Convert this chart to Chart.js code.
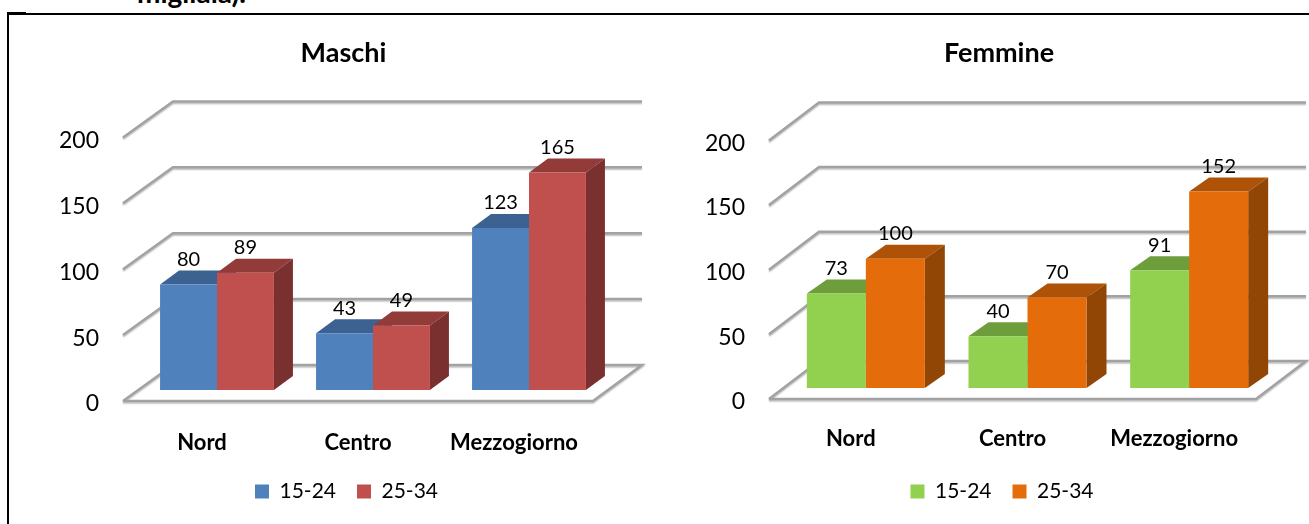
<!DOCTYPE html>
<html>
<head>
<meta charset="utf-8">
<title>Maschi e Femmine</title>
<script src="https://cdn.jsdelivr.net/npm/chart.js@4"></script>
<style>
    html, body { margin: 0; padding: 0; width: 1309px; height: 524px; overflow: hidden; background: #fff; }
    canvas { position: absolute; top: 0; }
    #left-chart { left: 8px; }
    #right-chart { left: 670px; }
    .caption { position: absolute; left: 137px; top: -25px; font: bold 28px Lato, sans-serif; color: #000; }
    .edge { position: absolute; background: #000; }
</style>
</head>
<body>
<div class="caption">migliaia).</div>
<div class="edge" style="left:7px;top:13px;width:1302px;height:1.5px"></div>
<div class="edge" style="left:7px;top:12px;width:19px;height:3px"></div>
<div class="edge" style="left:7px;top:13px;width:2px;height:511px"></div>
<canvas id="left-chart" width="670" height="524"></canvas>
<canvas id="right-chart" width="658" height="524"></canvas>
<script>
const categories = ['Nord', 'Centro', 'Mezzogiorno'];
const seriesNames = ['15-24', '25-34'];
const maschi1524 = [80, 43, 123];
const maschi2534 = [89, 49, 165];
const femmine1524 = [73, 40, 91];
const femmine2534 = [100, 70, 152];
const yMax = 200;
const yStep = 50;

const FONT = 'Lato, sans-serif';
const GRID_COLOR = '#a2a2a2';

// Draws the fake 3D box: walls and floor behind the bars, top and side of each bar
const fake3d = {
    id: 'fake3d',
    beforeDatasetsDraw(chart, args, opts) {
        const ctx = chart.ctx;
        const area = chart.chartArea;
        const y = chart.scales.y;
        const frontL = area.left - 16;
        const backL = area.left + 34;
        const backR = area.right + opts.backRight;
        const frontR = area.right - 14;

        ctx.save();
        ctx.strokeStyle = GRID_COLOR;
        ctx.lineWidth = 2.5;
        ctx.shadowColor = 'rgba(0,0,0,0.25)';
        ctx.shadowOffsetY = 1.5;
        ctx.shadowBlur = 1.5;
        y.ticks.forEach(function(tick) {
            const py = y.getPixelForValue(tick.value);
            ctx.beginPath();
            ctx.moveTo(frontL, py + 11);
            ctx.lineTo(backL, py - opts.wallUp);
            ctx.lineTo(backR, py - opts.wallUp);
            if (tick.value === 0) {
                // the floor closes on the front and on the right
                ctx.lineTo(frontR, py + 11);
                ctx.lineTo(frontL, py + 11);
            }
            ctx.stroke();
        });
        ctx.restore();

        // top and side faces, the front face comes from the library afterwards
        chart.data.datasets.forEach(function(ds, i) {
            chart.getDatasetMeta(i).data.forEach(function(bar) {
                const p = bar.getProps(['x', 'y', 'base', 'width'], true);
                const l = p.x - p.width / 2;
                const r = p.x + p.width / 2;
                ctx.fillStyle = ds.topColor;
                ctx.beginPath();
                ctx.moveTo(l, p.y);
                ctx.lineTo(r, p.y);
                ctx.lineTo(r + opts.barDx, p.y - opts.barDy);
                ctx.lineTo(l + opts.barDx, p.y - opts.barDy);
                ctx.closePath();
                ctx.fill();
                ctx.fillStyle = ds.sideColor;
                ctx.beginPath();
                ctx.moveTo(r, p.y);
                ctx.lineTo(r + opts.barDx, p.y - opts.barDy);
                ctx.lineTo(r + opts.barDx, p.base - opts.barDy);
                ctx.lineTo(r, p.base);
                ctx.closePath();
                ctx.fill();
            });
        });
    },
    afterDatasetsDraw(chart) {
        // value labels sit over the top face of each bar
        const ctx = chart.ctx;
        ctx.save();
        ctx.font = '20px ' + FONT;
        ctx.fillStyle = '#000';
        ctx.textAlign = 'center';
        ctx.textBaseline = 'middle';
        chart.data.datasets.forEach(function(ds, i) {
            chart.getDatasetMeta(i).data.forEach(function(bar, j) {
                ctx.fillText(ds.data[j], bar.x, bar.y - 25);
            });
        });
        ctx.restore();
    },
    afterLayout(chart, args, opts) {
        // layout padding pulls title and legend left, put them back over the plot
        chart.titleBlock.left += opts.titleShift;
        chart.titleBlock.right += opts.titleShift;
        chart.legend.left += opts.legendShift;
        chart.legend.right += opts.legendShift;
    }
};

function makeChart(canvasId, cfg) {
    return new Chart(document.getElementById(canvasId), {
        type: 'bar',
        data: {
            labels: categories,
            datasets: [
                { label: seriesNames[0], data: cfg.first, backgroundColor: cfg.colors[0], topColor: cfg.tops[0], sideColor: cfg.sides[0] },
                { label: seriesNames[1], data: cfg.second, backgroundColor: cfg.colors[1], topColor: cfg.tops[1], sideColor: cfg.sides[1] }
            ]
        },
        options: {
            responsive: false,
            animation: false,
            datasets: { bar: { categoryPercentage: 0.73, barPercentage: 1 } },
            layout: { padding: { top: 0, right: cfg.padRight, bottom: 12, left: 0 } },
            scales: {
                x: {
                    grid: { display: false, drawTicks: false },
                    border: { display: false },
                    ticks: { maxRotation: 0, padding: cfg.xPad, labelOffset: -15, color: '#000', font: { family: FONT, size: 22, weight: 'bold' } },
                    afterFit(scale) { scale.height = cfg.xHeight; }
                },
                y: {
                    min: 0,
                    max: yMax,
                    grid: { display: false, drawTicks: false },
                    border: { display: false },
                    ticks: { stepSize: yStep, padding: 40, labelOffset: 14, color: '#000', font: { family: FONT, size: 23 } },
                    afterFit(scale) { scale.width = cfg.yWidth; }
                }
            },
            plugins: {
                title: {
                    display: true,
                    text: cfg.title,
                    color: '#000',
                    font: { family: FONT, size: 27, weight: 'bold' },
                    padding: { top: 37, bottom: cfg.titleBottom }
                },
                legend: {
                    position: 'bottom',
                    labels: { boxWidth: 14, boxHeight: 14, padding: 21, color: '#000', font: { family: FONT, size: 21 } }
                },
                tooltip: { enabled: false },
                fake3d: { wallUp: cfg.wallUp, backRight: cfg.backRight, barDx: cfg.barDx, barDy: 14, titleShift: cfg.titleShift, legendShift: cfg.legendShift }
            }
        },
        plugins: [fake3d]
    });
}

makeChart('left-chart', {
    title: 'Maschi',
    first: maschi1524,
    second: maschi2534,
    colors: ['#4f81bd', '#c0504d'],
    tops: ['#3b6291', '#933b39'],
    sides: ['#2f4f75', '#7a302f'],
    yWidth: 131,
    padRight: 71,
    xHeight: 70,
    xPad: 40,
    titleBottom: 57,
    wallUp: 25,
    backRight: 35,
    barDx: 19,
    titleShift: 36,
    legendShift: 39
});

makeChart('right-chart', {
    title: 'Femmine',
    first: femmine1524,
    second: femmine2534,
    colors: ['#92d050', '#e46c0a'],
    tops: ['#6e9e3c', '#ad5207'],
    sides: ['#577d2f', '#914606'],
    yWidth: 115,
    padRight: 58,
    xHeight: 72,
    xPad: 38,
    titleBottom: 60,
    wallUp: 27,
    backRight: 36,
    barDx: 20,
    titleShift: 29,
    legendShift: 32
});
</script>
</body>
</html>
